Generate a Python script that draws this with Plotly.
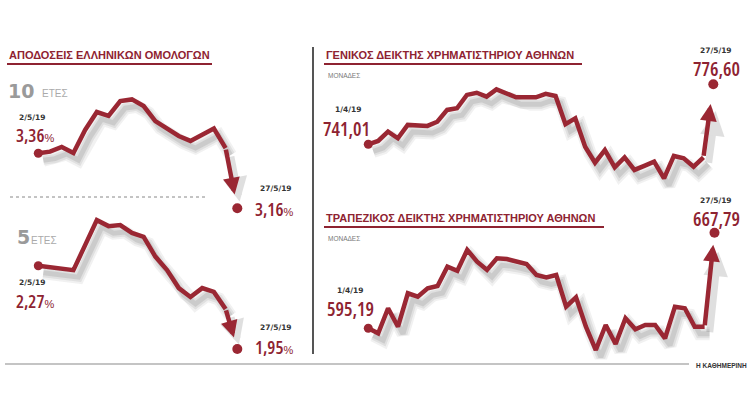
import plotly.graph_objects as go

W, H = 750, 420

# ---------------- data ----------------
bond_sessions = list(range(18))  # 2/5/19 ... 27/5/19 trading sessions
y10 = [3.36, 3.366, 3.383, 3.361, 3.445, 3.510, 3.496, 3.550, 3.556, 3.532,
       3.477, 3.448, 3.423, 3.405, 3.427, 3.450, 3.379, 3.16]
y5 = [2.27, 2.265, 2.259, 2.253, 2.349, 2.445, 2.422, 2.426, 2.396, 2.381,
      2.305, 2.253, 2.184, 2.150, 2.184, 2.169, 2.104, 1.95]

idx_sessions = list(range(36))  # 1/4/19 ... 27/5/19 trading sessions
general = [741.01, 743.0, 748.5, 744.6, 752.5, 752.2, 751.9, 754.4, 761.4, 762.4,
           770.3, 771.6, 769.3, 773.6, 771.6, 768.9, 768.9, 768.9, 770.9, 769.7,
           752.9, 756.4, 739.6, 730.1, 737.6, 727.4, 733.3, 725.8, 728.2, 730.7,
           720.8, 734.1, 732.7, 727.7, 733.3, 776.60]
banks = [595.19, 591.4, 610.4, 596.4, 621.8, 619.2, 625.6, 627.3, 642.0, 638.9,
         654.7, 645.8, 639.5, 648.4, 647.8, 645.8, 644.0, 635.7, 633.9, 635.7,
         611.6, 618.7, 596.4, 578.7, 597.7, 583.3, 602.8, 594.4, 597.7, 597.7,
         587.6, 611.6, 610.4, 596.4, 596.4, 667.79]

# ---------------- style ----------------
RED = "#9a2733"
TXT_RED = "#8e2331"
NUMFONT = "Open Sans"

fig = go.Figure()
layout = dict(width=W, height=H, margin=dict(l=0, r=0, t=0, b=0),
              paper_bgcolor="white", plot_bgcolor="rgba(0,0,0,0)",
              showlegend=False)


def dom(rng, a_val, a_px, b_val, b_px, total, flip=False, shift=0):
    k = (b_px - a_px) / (b_val - a_val)
    p0 = a_px + (rng[0] - a_val) * k + shift
    p1 = a_px + (rng[1] - a_val) * k + shift
    if flip:
        return sorted([1 - p0 / total, 1 - p1 / total])
    return sorted([p0 / total, p1 / total])


charts = [
    dict(x=bond_sessions, y=y10, xr=[-1, 18], xa=(0, 38.3, 17, 237.3),
         yr=[3.10, 3.62], ya=(3.36, 153.3, 3.16, 208.3), standoff=14),
    dict(x=bond_sessions, y=y5, xr=[-1, 18], xa=(0, 38.3, 17, 237.3),
         yr=[1.90, 2.50], ya=(2.27, 265.7, 1.95, 349.0), standoff=12),
    dict(x=idx_sessions, y=general, xr=[-2, 37], xa=(0, 368.3, 35, 713.3),
         yr=[712, 785], ya=(741.01, 144.3, 776.60, 84.3), standoff=20),
    dict(x=idx_sessions, y=banks, xr=[-2, 37], xa=(0, 368.3, 35, 714.5),
         yr=[570, 675], ya=(595.19, 328.3, 667.79, 232.7), standoff=12),
]

annotations = []
n = 0
for c in charts:
    for layer in ("shadow", "main"):
        n += 1
        sx = 5 if layer == "shadow" else 0
        sy = 7 if layer == "shadow" else 0
        xd = dom(c["xr"], c["xa"][0], c["xa"][1], c["xa"][2], c["xa"][3], W, shift=sx)
        yd = dom(c["yr"], c["ya"][0], c["ya"][1], c["ya"][2], c["ya"][3], H, flip=True, shift=sy)
        xn = "xaxis" if n == 1 else f"xaxis{n}"
        yn = "yaxis" if n == 1 else f"yaxis{n}"
        xref = "x" if n == 1 else f"x{n}"
        yref = "y" if n == 1 else f"y{n}"
        layout[xn] = dict(domain=xd, range=c["xr"], visible=False, anchor=yref, fixedrange=True)
        layout[yn] = dict(domain=yd, range=c["yr"], visible=False, anchor=xref, fixedrange=True)
        xs, ys = c["x"][:-1], c["y"][:-1]
        if layer == "shadow":
            for w, col in ((13, "rgba(60,60,60,0.07)"), (9, "rgba(60,60,60,0.09)"),
                           (5, "rgba(60,60,60,0.12)")):
                fig.add_trace(go.Scatter(x=xs, y=ys, xaxis=xref, yaxis=yref, mode="lines",
                                         line=dict(color=col, width=w, shape="linear"),
                                         hoverinfo="skip"))
            annotations.append(dict(x=c["x"][-1], y=c["y"][-1], ax=c["x"][-2], ay=c["y"][-2],
                                    xref=xref, yref=yref, axref=xref, ayref=yref,
                                    showarrow=True, arrowhead=2, arrowsize=0.7, arrowwidth=7,
                                    arrowcolor="rgba(60,60,60,0.16)", standoff=c["standoff"], text=""))
        else:
            fig.add_trace(go.Scatter(x=xs, y=ys, xaxis=xref, yaxis=yref, mode="lines",
                                     line=dict(color=RED, width=4.5), hoverinfo="skip"))
            fig.add_trace(go.Scatter(x=[c["x"][0], c["x"][-1]], y=[c["y"][0], c["y"][-1]],
                                     xaxis=xref, yaxis=yref, mode="markers",
                                     marker=dict(color=RED, size=[9, 10], opacity=1,
                                                 line=dict(width=0)),
                                     hoverinfo="skip", cliponaxis=False))
            annotations.append(dict(x=c["x"][-1], y=c["y"][-1], ax=c["x"][-2], ay=c["y"][-2],
                                    xref=xref, yref=yref, axref=xref, ayref=yref,
                                    showarrow=True, arrowhead=2, arrowsize=0.75, arrowwidth=4.5,
                                    arrowcolor=RED, standoff=c["standoff"], text=""))


def txt(xp, yp, text, size, color, family="Liberation Sans", xanchor="left", bold=False):
    if bold:
        text = f"<b>{text}</b>"
    annotations.append(dict(x=xp / W, y=1 - yp / H, xref="paper", yref="paper",
                            text=text, showarrow=False, xanchor=xanchor, yanchor="middle",
                            font=dict(size=size, color=color, family=family)))


COND = "font-stretch:75%;font-weight:600"


def num(v):
    return f'<span style="{COND}">{v}</span>'


def pct(v):
    return (f'<span style="{COND}">{v}</span>'
            f'<span style="font-size:11px;font-family:Liberation Sans">%</span>')


# titles
txt(7, 55, "ΑΠΟΔΟΣΕΙΣ ΕΛΛΗΝΙΚΩΝ ΟΜΟΛΟΓΩΝ", 11, TXT_RED, bold=True)
txt(324, 55, "ΓΕΝΙΚΟΣ ΔΕΙΚΤΗΣ ΧΡΗΜΑΤΙΣΤΗΡΙΟΥ ΑΘΗΝΩΝ", 11, TXT_RED, bold=True)
txt(324, 218, "ΤΡΑΠΕΖΙΚΟΣ ΔΕΙΚΤΗΣ ΧΡΗΜΑΤΙΣΤΗΡΙΟΥ ΑΘΗΝΩΝ", 11, TXT_RED, bold=True)
txt(326, 75, "ΜΟΝΑΔΕΣ", 6.5, "#777")
txt(326, 238, "ΜΟΝΑΔΕΣ", 6.5, "#777")

# maturities
txt(6, 91, "10", 19, "#9a9a9a", family="DejaVu Sans", bold=True)
txt(40, 94, "ΕΤΕΣ", 10, "#aaaaaa")
txt(15, 237, "5", 19, "#9a9a9a", family="DejaVu Sans", bold=True)
txt(29, 240, "ΕΤΕΣ", 10, "#aaaaaa")

DATEC = "#333333"
# 10y labels
txt(32, 117, "2/5/19", 7.5, DATEC, family="DejaVu Sans", xanchor="center", bold=True)
txt(14, 135, pct("3,36"), 18, TXT_RED, family=NUMFONT)
txt(276, 189, "27/5/19", 7.5, DATEC, family="DejaVu Sans", xanchor="center", bold=True)
txt(253, 209, pct("3,16"), 18, TXT_RED, family=NUMFONT)
# 5y labels
txt(32, 282, "2/5/19", 7.5, DATEC, family="DejaVu Sans", xanchor="center", bold=True)
txt(14, 301, pct("2,27"), 18, TXT_RED, family=NUMFONT)
txt(276, 327, "27/5/19", 7.5, DATEC, family="DejaVu Sans", xanchor="center", bold=True)
txt(253, 347, pct("1,95"), 18, TXT_RED, family=NUMFONT)
# general index
txt(348, 110, "1/4/19", 7.5, DATEC, family="DejaVu Sans", xanchor="center", bold=True)
txt(346, 129, num("741,01"), 19, TXT_RED, family=NUMFONT, xanchor="center")
txt(716, 50, "27/5/19", 7.5, DATEC, family="DejaVu Sans", xanchor="center", bold=True)
txt(716, 69, num("776,60"), 19, TXT_RED, family=NUMFONT, xanchor="center")
# bank index
txt(350, 290, "1/4/19", 7.5, DATEC, family="DejaVu Sans", xanchor="center", bold=True)
txt(350, 309, num("595,19"), 19, TXT_RED, family=NUMFONT, xanchor="center")
txt(716, 200, "27/5/19", 7.5, DATEC, family="DejaVu Sans", xanchor="center", bold=True)
txt(716, 219, num("667,79"), 19, TXT_RED, family=NUMFONT, xanchor="center")

txt(749, 365, "Η ΚΑΘΗΜΕΡΙΝΗ", 6.5, "#333", xanchor="right", bold=True)

shapes = []


def hline(x0, x1, y, color, width, dash="solid"):
    shapes.append(dict(type="line", xref="paper", yref="paper", x0=x0 / W, x1=x1 / W,
                       y0=1 - y / H, y1=1 - y / H, line=dict(color=color, width=width, dash=dash)))


hline(7, 212, 64, TXT_RED, 2)
hline(324, 582, 64, TXT_RED, 2)
hline(324, 604, 227, TXT_RED, 2)
hline(10, 205, 197, "#888", 1, "dot")
hline(5, 689, 364, "#c4c4c4", 2)
shapes.append(dict(type="line", xref="paper", yref="paper", x0=313 / W, x1=313 / W,
                   y0=1 - 47 / H, y1=1 - 354 / H, line=dict(color="#555", width=2)))

layout["annotations"] = annotations
layout["shapes"] = shapes
fig.update_layout(**layout)
fig.write_html("out.html")
